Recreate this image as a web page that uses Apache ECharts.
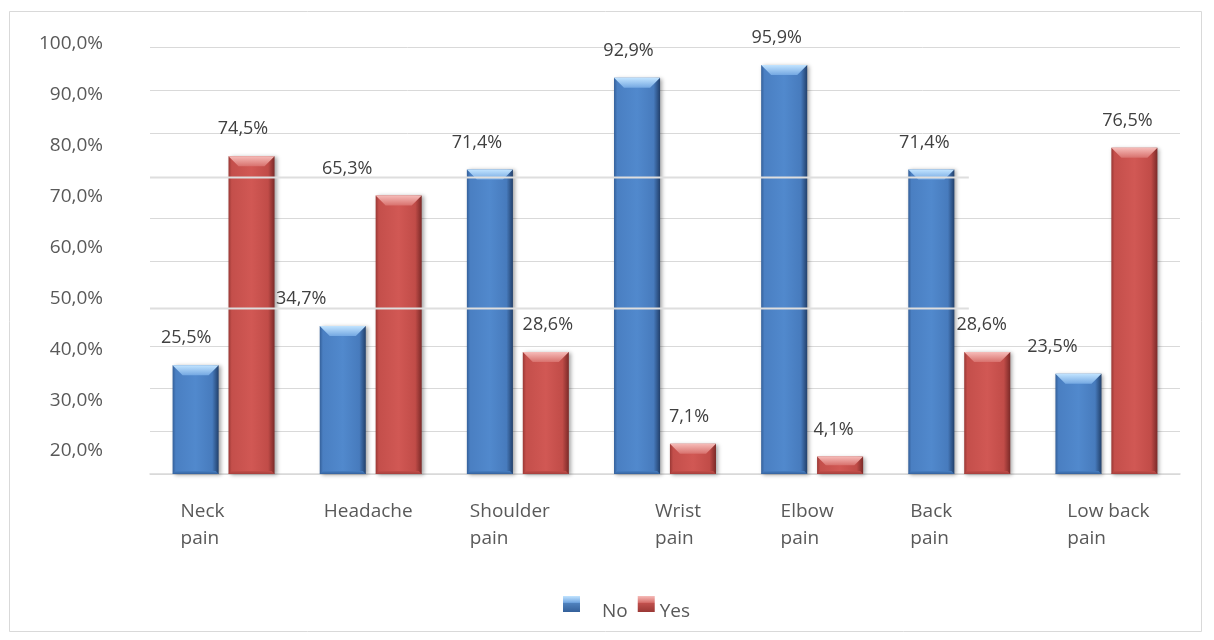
<!DOCTYPE html>
<html>
<head>
<meta charset="utf-8">
<script src="https://cdn.jsdelivr.net/npm/echarts@6/dist/echarts.min.js"></script>
<style>
  html, body { margin: 0; padding: 0; background: #ffffff; }
  #chart { width: 1214px; height: 640px; }
</style>
</head>
<body>
<div id="chart"></div>
<script>
// ---- data ----
const categories = ['Neck pain', 'Headache', 'Shoulder pain', 'Wrist pain', 'Elbow pain', 'Back pain', 'Low back pain'];
const noValues = [25.5, 34.7, 71.4, 92.9, 95.9, 71.4, 23.5];
const yesValues = [74.5, 65.3, 28.6, 7.1, 4.1, 28.6, 76.5];
const yTickLabels = ['20,0%', '30,0%', '40,0%', '50,0%', '60,0%', '70,0%', '80,0%', '90,0%', '100,0%'];
const seriesNames = ['No', 'Yes'];

// ---- label nudges (px, horizontal) ----
const noLabelShift = [-9.5, -41.5, -13, -8.5, -7.5, -7, -26];
const yesLabelShift = [-8.5, -51.5, 2, -4, -6.5, -5.5, -7];
const categoryLabelShift = [-21, -2.5, -8, 13, -5, -28, 2];
// two gridlines that are painted over the bars
const overlayLevels = [38.8, 69.5];

const FONT = '"Open Sans", "Noto Sans", sans-serif';
const fmtPct = v => v.toFixed(1).replace('.', ',') + '%';
const G = echarts.graphic.LinearGradient;

const palettes = {
  No: {
    body: [[0, '#34609a'], [0.07, '#4a7fc2'], [0.5, '#5189cd'], [0.86, '#477bbd'], [1, '#22406b']],
    cap: [[0, '#c2e4ff'], [1, '#74a8e2']],
    foot: [[0, '#477fc2'], [1, '#35629e']],
    flat: '#4f81bd'
  },
  Yes: {
    body: [[0, '#9a3835'], [0.07, '#c44f4b'], [0.5, '#d15854'], [0.86, '#c14c48'], [1, '#7b2a28']],
    cap: [[0, '#f6bcb9'], [1, '#d8716d']],
    foot: [[0, '#c24d49'], [1, '#a7403d']],
    flat: '#c0504d'
  }
};

function stops(list) { return list.map(s => ({ offset: s[0], color: s[1] })); }

function barRenderer(name, side, shifts) {
  const p = palettes[name];
  return function (params, api) {
    const idx = api.value(0);
    const val = api.value(1);
    const band = api.size([1, 0])[0];
    const w = band * 0.313;
    const topPt = api.coord([idx, val]);
    const basePt = api.coord([idx, 0]);
    const cx = topPt[0] + side * band * 0.19;
    const x0 = cx - w / 2;
    const y0 = topPt[1];
    const y1 = basePt[1];
    const h = y1 - y0;
    const b = Math.min(10, h / 2);
    const bf = Math.min(3, h / 5);
    return {
      type: 'group',
      children: [
        {
          type: 'rect',
          shape: { x: x0, y: y0, width: w, height: h },
          style: {
            fill: new G(0, 0, 1, 0, stops(p.body)),
            shadowBlur: 4, shadowColor: 'rgba(0,0,0,0.35)', shadowOffsetX: 2, shadowOffsetY: 1
          }
        },
        {
          type: 'polygon',
          shape: { points: [[x0, y0], [x0 + w, y0], [x0 + w - b, y0 + b], [x0 + b, y0 + b]] },
          style: { fill: new G(0, 0, 0, 1, stops(p.cap)) }
        },
        {
          type: 'polygon',
          shape: { points: [[x0 + bf, y1 - bf], [x0 + w - bf, y1 - bf], [x0 + w, y1], [x0, y1]] },
          style: { fill: new G(0, 0, 0, 1, stops(p.foot)) }
        },
        {
          type: 'text',
          style: {
            text: fmtPct(val),
            x: cx + shifts[params.dataIndex],
            y: y0 - 27,
            align: 'center',
            verticalAlign: 'middle',
            fontSize: 18,
            fontFamily: FONT,
            fill: '#404040'
          }
        }
      ]
    };
  };
}

function overlayRenderer(params, api) {
  const cs = params.coordSys;
  const y = api.coord([0, api.value(1)])[1];
  return {
    type: 'line',
    shape: { x1: cs.x, y1: y, x2: cs.x + cs.width * 0.795, y2: y },
    style: { stroke: '#dedede', lineWidth: 2 }
  };
}

function legendIcon(name) {
  const p = palettes[name];
  return new G(0, 0, 0, 1, [
    { offset: 0, color: p.cap[0][1] },
    { offset: 0.4, color: p.cap[1][1] },
    { offset: 0.45, color: p.flat },
    { offset: 1, color: p.body[0][1] }
  ]);
}

const splitColors = ['#d9d9d9', '#d9d9d9', '#d9d9d9', '#d9d9d9', 'rgba(0,0,0,0)', '#d9d9d9',
                     '#d9d9d9', 'rgba(0,0,0,0)', '#d9d9d9', '#d9d9d9', '#d9d9d9'];

const legendText = { fontSize: 19, fontFamily: FONT, color: '#595959' };

const chart = echarts.init(document.getElementById('chart'), null, { renderer: 'canvas' });

chart.setOption({
  backgroundColor: '#ffffff',
  animation: false,
  graphic: [{
    type: 'rect',
    shape: { x: 9.5, y: 11.5, width: 1192, height: 620 },
    style: { fill: 'none', stroke: '#d9d9d9', lineWidth: 1 },
    silent: true
  }],
  grid: [
    { left: 150, right: 34, top: 47.5, bottom: 166 },
    { left: 150, right: 34, top: 44, bottom: 189 }
  ],
  xAxis: [
    {
      gridIndex: 0,
      type: 'category',
      data: categories.map((c, i) => {
        const d = categoryLabelShift[i];
        return {
          value: c,
          textStyle: { padding: d < 0 ? [0, -2 * d, 0, 0] : [0, 0, 0, 2 * d] }
        };
      }),
      axisLine: { lineStyle: { color: '#d9d9d9', width: 1.5 } },
      axisTick: { show: false },
      axisLabel: {
        interval: 0,
        margin: 24,
        align: 'center',
        formatter: v => {
          const k = v.lastIndexOf(' ');
          if (k < 0) return '{l|' + v + '}';
          return '{l|' + v.slice(0, k) + '}\n{l|' + v.slice(k + 1) + '}';
        },
        rich: {
          l: { align: 'left', fontSize: 19, fontFamily: FONT, color: '#595959', lineHeight: 27 }
        }
      }
    },
    { gridIndex: 1, type: 'value', show: false, min: 0, max: 1 }
  ],
  yAxis: [
    {
      gridIndex: 0,
      type: 'value',
      min: 0, max: 100, interval: 10,
      axisLine: { show: false },
      axisTick: { show: false },
      axisLabel: { show: false },
      splitLine: { lineStyle: { color: splitColors, width: 1 } }
    },
    {
      gridIndex: 1,
      type: 'value',
      min: 20, max: 100, interval: 10,
      axisLine: { show: false },
      axisTick: { show: false },
      splitLine: { show: false },
      axisLabel: {
        margin: 47,
        fontSize: 19,
        fontFamily: FONT,
        color: '#595959',
        formatter: v => yTickLabels[Math.round((v - 20) / 10)] || ''
      }
    }
  ],
  legend: {
    left: 558,
    top: 591,
    itemWidth: 17,
    itemHeight: 16,
    itemGap: 10,
    icon: 'rect',
    formatter: name => (name === seriesNames[0] ? '{a|' : '{b|') + name + '}',
    textStyle: Object.assign({}, legendText, {
      rich: {
        a: Object.assign({ padding: [16, 0, 0, 17] }, legendText),
        b: Object.assign({ padding: [16, 0, 0, 0] }, legendText)
      }
    }),
    data: [
      { name: seriesNames[0], itemStyle: { color: legendIcon('No') } },
      { name: seriesNames[1], itemStyle: { color: legendIcon('Yes') } }
    ]
  },
  series: [
    {
      name: seriesNames[0],
      type: 'custom',
      xAxisIndex: 0, yAxisIndex: 0,
      z: 2,
      itemStyle: { color: palettes.No.flat },
      encode: { x: 0, y: 1 },
      data: noValues.map((v, i) => [i, v]),
      renderItem: barRenderer('No', -1, noLabelShift)
    },
    {
      name: seriesNames[1],
      type: 'custom',
      xAxisIndex: 0, yAxisIndex: 0,
      z: 2,
      itemStyle: { color: palettes.Yes.flat },
      encode: { x: 0, y: 1 },
      data: yesValues.map((v, i) => [i, v]),
      renderItem: barRenderer('Yes', 1, yesLabelShift)
    },
    {
      name: 'gridOverlay',
      type: 'custom',
      xAxisIndex: 0, yAxisIndex: 0,
      z: 4,
      silent: true,
      encode: { x: 0, y: 1 },
      data: overlayLevels.map(v => [0, v]),
      renderItem: overlayRenderer
    }
  ]
});
</script>
</body>
</html>
